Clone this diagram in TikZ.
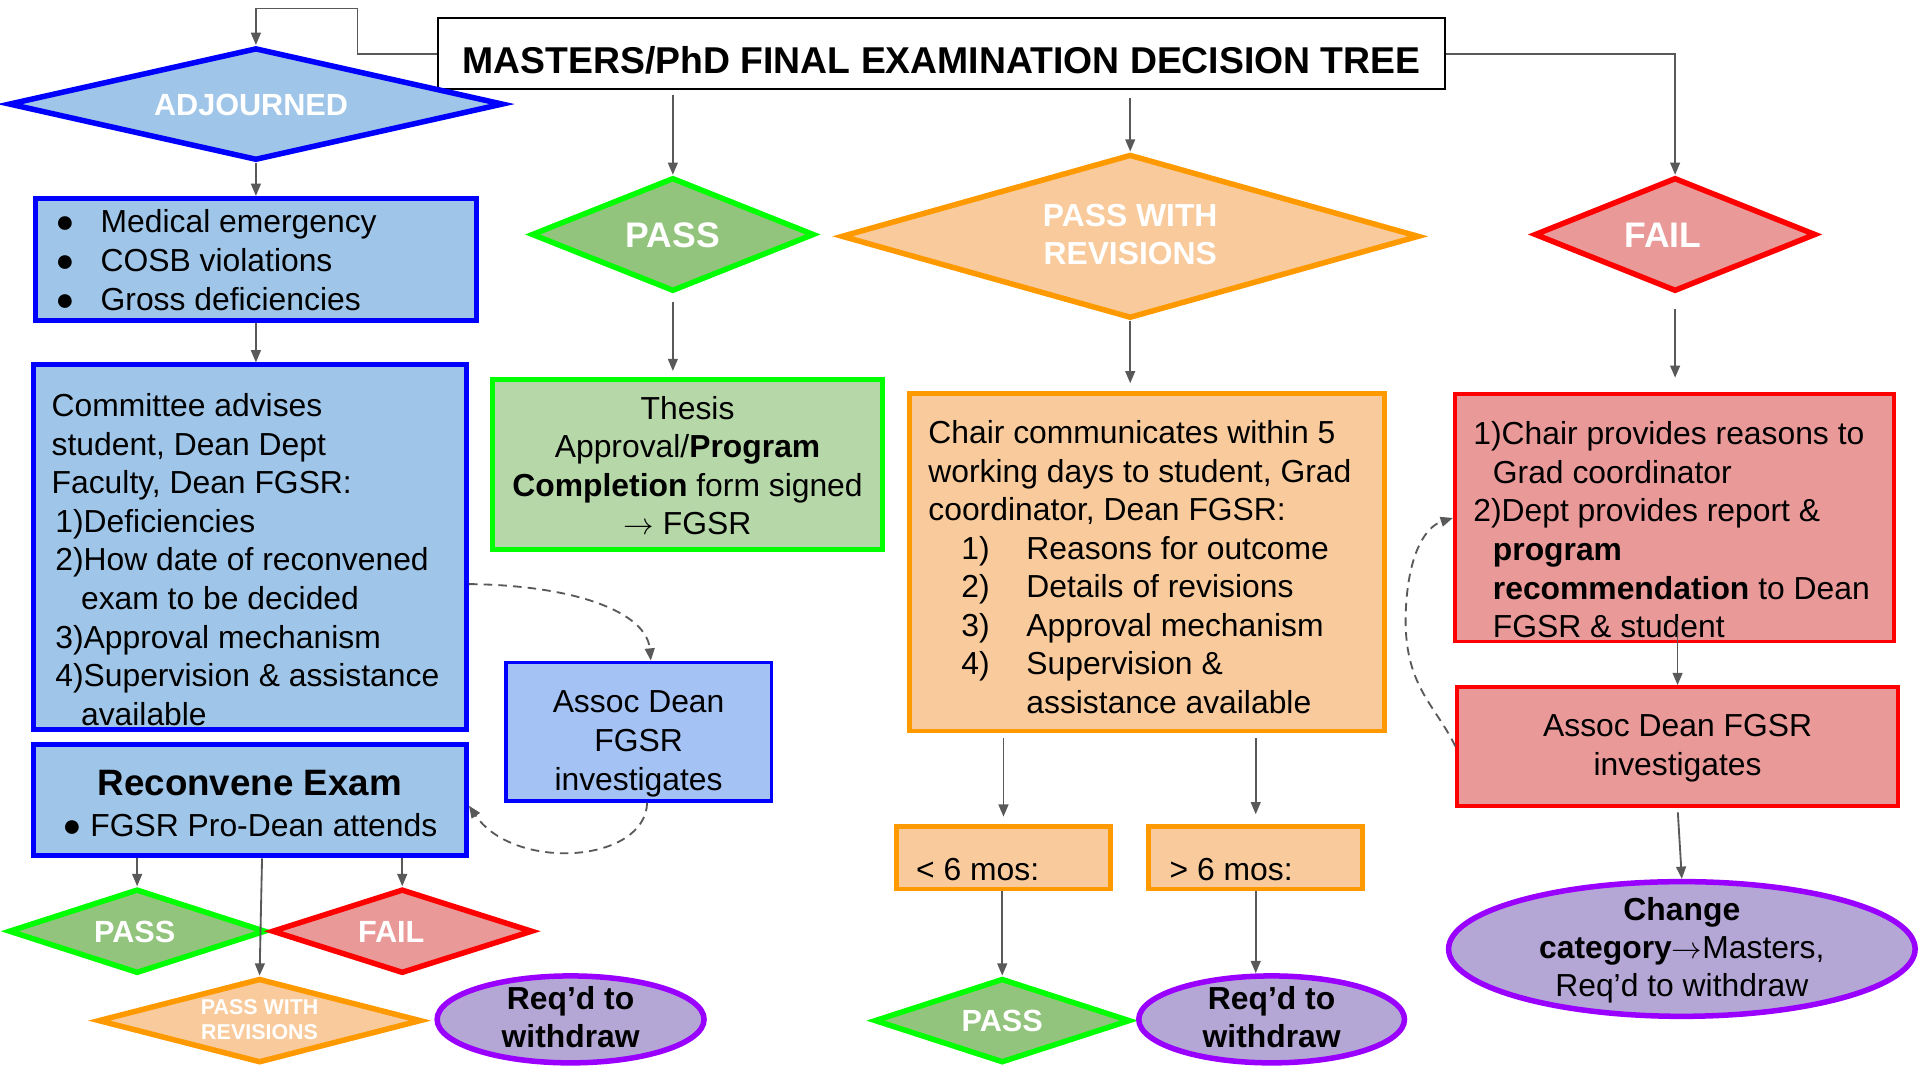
\documentclass[tikz,border=0pt]{standalone}
\usepackage{fontspec}
\setmainfont{Liberation Sans}
\usetikzlibrary{shapes.geometric,arrows.meta}
\definecolor{bfill}{HTML}{9FC5E8}
\definecolor{bstroke}{HTML}{0000FF}
\definecolor{bbfill}{HTML}{A4C2F4}
\definecolor{gfill}{HTML}{93C47D}
\definecolor{ggfill}{HTML}{B6D7A8}
\definecolor{gstroke}{HTML}{00FF00}
\definecolor{ofill}{HTML}{F9CB9C}
\definecolor{ostroke}{HTML}{FF9900}
\definecolor{rfill}{HTML}{EA9999}
\definecolor{rstroke}{HTML}{FF0000}
\definecolor{pfill}{HTML}{B4A7D6}
\definecolor{pstroke}{HTML}{9900FF}
\definecolor{arrgray}{HTML}{595959}
\newcommand\myfs[2]{\fontsize{#1}{#2}\selectfont}
\newcommand\sst{\rule[-.25\baselineskip]{0pt}{\baselineskip}}
\newcommand\bul[1]{\makebox[#1][l]{●}}
\newcommand\toarr{\ensuremath{\rightarrow}}
\begin{document}
\begin{tikzpicture}[x=1pt,y=-1pt,
  body/.style={font=\myfs{26}{31.5}},
  txt/.style={body, inner sep=0pt, align=left, anchor=north west},
  ctxt/.style={body, inner sep=0pt, align=center, anchor=north},
  rbox/.style={rectangle, inner sep=0pt, line width=4pt},
  bluebox/.style={rbox, draw=bstroke, fill=bfill},
  orbox/.style={rbox, draw=ostroke, fill=ofill},
  redbx/.style={rbox, line width=3pt, draw=rstroke, fill=rfill},
  dia/.style={diamond, inner sep=0pt, line width=4.5pt, text=white},
  dbig/.style={font={\myfs{29}{35}\bfseries}, text height=21pt, text depth=0pt},
  dsmall/.style={font={\myfs{25}{30}\bfseries}, text height=18pt, text depth=0pt},
  ell/.style={ellipse, inner sep=-12pt, line width=4.5pt, align=center, draw=pstroke, fill=pfill},
  arr/.style={draw=arrgray, line width=1.5pt, -{Triangle[length=10pt,width=8pt]}},
  dsh/.style={arr, dash pattern=on 7pt off 5pt}]
\useasboundingbox (0,0) rectangle (1568,882);

% title
\node[draw=black, line width=1.5pt, fill=white, minimum width=822pt, minimum height=58pt,
      inner sep=0pt, font={\myfs{30.5}{36}\bfseries}, text height=32pt, text depth=0pt]
      (title) at (769,44) {MASTERS/PhD FINAL EXAMINATION DECISION TREE};

% adjourned column
\node[dia, draw=bstroke, fill=bfill, shape aspect=4.25, minimum width=404pt, minimum height=92pt, dsmall]
      (adj) at (209,85) {ADJOURNED\hspace*{8pt}};
\node[bluebox, minimum width=360pt, minimum height=100pt] (bul) at (209,212) {};
\node[txt] (bul-t) at (45,166.4) {\sst\bul{37pt}Medical emergency\\\bul{37pt}COSB violations\\\bul{37pt}Gross deficiencies\sst};
\node[bluebox, minimum width=354pt, minimum height=298pt] (comm) at (204,447) {};
\node[txt] (comm-t) at (42,316.4) {\sst Committee advises\\student, Dean Dept\\Faculty, Dean FGSR:\\
  \hspace*{3pt}1)Deficiencies\\\hspace*{3pt}2)How date of reconvened\\\hspace*{24pt}exam to be decided\\
  \hspace*{3pt}3)Approval mechanism\\\hspace*{3pt}4)Supervision \& assistance\\\hspace*{24pt}available\sst};
\node[bluebox, minimum width=354pt, minimum height=91pt] (recon) at (204,653.5) {};
\node[font={\myfs{30}{36}\bfseries}, inner sep=0pt, anchor=base] (recon-t1) at (204,650) {Reconvene Exam};
\node[body, inner sep=0pt, anchor=base] (recon-t2) at (204,683) {● FGSR Pro-Dean attends};
\node[rbox, line width=3pt, draw=bstroke, fill=bbfill, minimum width=217pt, minimum height=113pt] (assoc1) at (521.5,597.5) {};
\node[ctxt] (assoc1-t) at (521.5,558.4) {\sst Assoc Dean\\FGSR\\investigates\sst};

\node[dia, draw=gstroke, fill=gfill, shape aspect=3, minimum width=210pt, minimum height=69pt, dsmall]
      (pass2) at (112,760.5) {PASS\hspace*{4pt}};
\node[dia, draw=rstroke, fill=rfill, shape aspect=3, minimum width=213pt, minimum height=69pt, dsmall]
      (fail2) at (328.5,760.5) {FAIL\hspace*{18pt}};
\node[dia, draw=ostroke, fill=ofill, shape aspect=3.67, minimum width=264pt, minimum height=69pt,
      font={\myfs{17.5}{21}\bfseries}, align=center]
      (pwr2) at (212,833.5) {\sst PASS WITH\\REVISIONS\sst};
\node[ell, minimum width=218pt, minimum height=71pt, font={\myfs{26}{31}\bfseries}]
      (req1) at (466,832.5) {\sst Req’d to\\withdraw\sst};

% pass column
\node[dia, draw=gstroke, fill=gfill, shape aspect=2.42, minimum width=231pt, minimum height=93pt, dbig]
      (pass1) at (549.5,191.5) {PASS};
\node[rbox, draw=gstroke, fill=ggfill, minimum width=319pt, minimum height=139pt] (thesis) at (561.5,379.5) {};
\node[ctxt] (thesis-t) at (561.5,318.4) {\sst Thesis\\Approval/\textbf{Program}\\\textbf{Completion} form signed\\\toarr\ FGSR\sst};

% pass with revisions column
\node[dia, draw=ostroke, fill=ofill, shape aspect=3.45, minimum width=472pt, minimum height=134pt,
      font={\myfs{26}{31}\bfseries}, align=center]
      (pwr1) at (923,193) {\sst PASS WITH\\REVISIONS\sst};
\node[orbox, minimum width=388pt, minimum height=276pt] (orange) at (937,459) {};
\node[txt] (orange-t) at (758,338.4) {\sst Chair communicates within 5\\working days to student, Grad\\coordinator, Dean FGSR:\\
  \hspace*{27pt}\makebox[53pt][l]{1)}Reasons for outcome\\\hspace*{27pt}\makebox[53pt][l]{2)}Details of revisions\\
  \hspace*{27pt}\makebox[53pt][l]{3)}Approval mechanism\\\hspace*{27pt}\makebox[53pt][l]{4)}Supervision \&\\
  \hspace*{80pt}assistance available\sst};
\node[orbox, minimum width=175pt, minimum height=51pt] (lt) at (819.5,700.5) {};
\node[body, inner sep=0pt, anchor=base west] (lt-t) at (748,719) {< 6 mos:};
\node[orbox, minimum width=175pt, minimum height=51pt] (gt) at (1025.5,700.5) {};
\node[body, inner sep=0pt, anchor=base west] (gt-t) at (955,719) {> 6 mos:};
\node[dia, draw=gstroke, fill=gfill, shape aspect=3, minimum width=209pt, minimum height=69pt, dsmall]
      (pass3) at (818.5,833.5) {PASS};
\node[ell, minimum width=217pt, minimum height=71pt, font={\myfs{26}{31}\bfseries}]
      (req2) at (1038.5,832.5) {\sst Req’d to\\withdraw\sst};

% fail column
\node[dia, draw=rstroke, fill=rfill, shape aspect=2.42, minimum width=230pt, minimum height=93pt, dbig]
      (fail1) at (1368,191.5) {FAIL\hspace*{20pt}};
\node[redbx, minimum width=359pt, minimum height=202pt] (redbox) at (1367.5,423) {};
\node[txt] (red-t) at (1203,339.4) {\sst 1)Chair provides reasons to\\\hspace*{16pt}Grad coordinator\\2)Dept provides report \&\\
  \hspace*{16pt}\textbf{program}\\\hspace*{16pt}\textbf{recommendation} to Dean\\\hspace*{16pt}FGSR \& student\sst};
\node[redbx, minimum width=360pt, minimum height=97pt, body, align=center] (assoc2) at (1370,609.5)
      {\sst Assoc Dean FGSR\\investigates\sst};
\node[ell, minimum width=381pt, minimum height=110pt, font=\myfs{26}{31}]
      (change) at (1373.5,775) {\sst\textbf{Change}\\\textbf{category}\toarr Masters,\\Req’d to withdraw\sst};

% connectors
\coordinate (c1) at (292,7);
\draw[arr] (title.west) -| (c1) -| (adj.north);
\draw[arr, shorten <=4pt] (title.south -| pass1.north) -- (pass1.north);
\draw[arr, shorten <=6pt] (title.south -| pwr1.north) -- (pwr1.north);
\draw[arr] (title.east) -| (fail1.north);
\draw[arr] (adj.south) -- (bul.north);
\draw[arr] (bul.south) -- (bul.south |- comm.north);
\draw[arr, shorten <=6pt, shorten >=5pt] (pass1.south) -- (pass1.south |- thesis.north);
\draw[arr, shorten >=6pt] (pwr1.south) -- (pwr1.south |- orange.north);
\draw[arr, shorten <=12pt, shorten >=12pt] (fail1.south) -- (fail1.south |- redbox.north);
\draw[arr, shorten <=4pt, shorten >=6pt] (orange.south -| lt.north) -- (lt.north);
\draw[arr, shorten <=4pt, shorten >=8pt] (orange.south -| gt.north) -- (gt.north);
\draw[arr] (lt.south -| pass3.north) -- (pass3.north);
\draw[arr] (gt.south) -- (gt.south |- req2.north);
\draw[arr] (recon.south -| pass2.north) -- (pass2.north);
\draw[arr] ([xshift=2pt]recon.south -| pwr2.north) -- (pwr2.north);
\draw[arr] (recon.south -| fail2.north) -- (fail2.north);
\draw[arr] ([yshift=18pt]redbox.south -| assoc2.north) -- (assoc2.north);
\draw[arr, shorten <=4pt] (assoc2.south) -- (change.north);
\draw[dsh] ([yshift=-30pt]comm.east) .. controls (470,478) and (528,500) .. ([xshift=10pt]assoc1.north);
\draw[dsh] ([xshift=7pt]assoc1.south) .. controls (527,705) and (420,712) .. ([yshift=-4.5pt]recon.east);
\draw[dsh] (assoc2.west) .. controls (1172,575) and (1146,560) .. (1148,500) .. controls (1150,450) and (1165,430) .. (redbox.west);
\end{tikzpicture}
\end{document}
